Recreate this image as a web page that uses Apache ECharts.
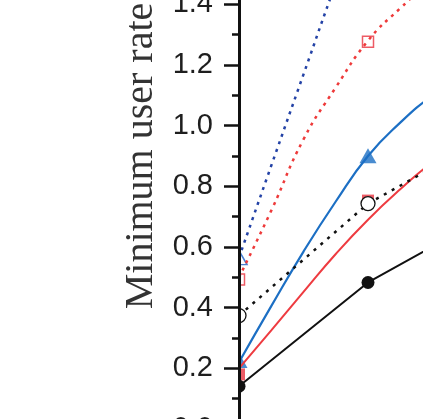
<!DOCTYPE html>
<html>
<head>
<meta charset="utf-8">
<script src="https://cdn.jsdelivr.net/npm/echarts@6/dist/echarts.min.js"></script>
<style>
  html, body { margin: 0; padding: 0; background: #fff; }
  #chart { width: 423px; height: 419px; }
</style>
</head>
<body>
<div id="chart"></div>
<script>
// curve samples (x in steps of the marker spacing)
const xCurve = [0, 0.25, 0.5, 0.75, 1.0, 1.25, 1.5, 2.0];
const blueSolidCurve = [0.22, 0.405, 0.585, 0.75, 0.90, 1.01, 1.10, 1.25];
const redSolidCurve = [0.20, 0.325, 0.452, 0.577, 0.69, 0.79, 0.88, 1.03];
const redDotCurve = [0.50, 0.72, 0.955, 1.126, 1.28, 1.387, 1.48, 1.64];
const xBlueDot = [0, 0.25, 0.5, 0.75, 1.0];
const blueDotCurve = [0.565, 0.868, 1.169, 1.469, 1.752];

// marker data
const xPoints = [0, 1, 2];
const blackSolid = [0.141, 0.483, 0.72];
const blackDotted = [0.374, 0.743, 0.98];
const redSquares = [0.18, 0.753];
const blueTriangles = [0.226, 0.901];
const openSquares = [0.493, 1.277];
const openTriangles = [0.565];

const pairs = (xs, ys) => ys.map((y, i) => [xs[i], y]);

const chart = echarts.init(document.getElementById('chart'));

const option = {
  animation: false,
  grid: { left: 239, right: -74, top: -117, bottom: -10, containLabel: false, outerBoundsMode: 'none' },
  xAxis: { type: 'value', min: 0, max: 2, show: false },
  yAxis: {
    type: 'value',
    min: 0,
    max: 1.8,
    interval: 0.2,
    z: 10,
    name: 'Minimum user rate',
    nameLocation: 'middle',
    nameGap: 72,
    nameTextStyle: { fontFamily: 'Liberation Serif', fontSize: 40, color: '#333' },
    axisLine: { show: true, lineStyle: { color: '#111', width: 3 } },
    axisTick: { length: 15, lineStyle: { color: '#111', width: 2.5 } },
    minorTick: { show: true, splitNumber: 2, length: 7, lineStyle: { color: '#111', width: 2.5 } },
    splitLine: { show: false },
    axisLabel: {
      margin: 26,
      fontSize: 29,
      fontFamily: 'Liberation Sans',
      color: '#1e1e1e',
      formatter: v => v.toFixed(1)
    }
  },
  // white block left of the axis so markers sitting on it show only their right half
  graphic: [{
    type: 'rect', z: 5, silent: true,
    shape: { x: 0, y: 0, width: 238.5, height: 419 },
    style: { fill: '#fff' }
  }],
  series: [
    {
      type: 'line', smooth: true, showSymbol: false,
      data: pairs(xBlueDot, blueDotCurve),
      lineStyle: { color: '#2342a6', width: 2.5, type: [3, 5] }
    },
    {
      type: 'line', smooth: true, showSymbol: false,
      data: pairs(xCurve, redDotCurve),
      lineStyle: { color: '#ee3a3a', width: 2.5, type: [3, 5] }
    },
    {
      type: 'line', smooth: true, showSymbol: false,
      data: pairs(xCurve, blueSolidCurve),
      lineStyle: { color: '#1c6fc4', width: 2.2 }
    },
    {
      type: 'line', smooth: true, showSymbol: false,
      data: pairs(xCurve, redSolidCurve),
      lineStyle: { color: '#ee3b40', width: 2 }
    },
    {
      type: 'line',
      data: pairs(xPoints, blackSolid),
      symbol: 'circle', symbolSize: 13,
      itemStyle: { color: '#111' },
      lineStyle: { color: '#111', width: 2 }
    },
    {
      type: 'scatter',
      data: pairs(xPoints, redSquares),
      symbol: 'rect', symbolSize: 12,
      itemStyle: { color: '#e8323f' }
    },
    {
      type: 'line',
      data: pairs(xPoints, blackDotted),
      symbol: 'circle', symbolSize: 14,
      itemStyle: { color: '#fff', borderColor: '#111', borderWidth: 1.3 },
      lineStyle: { color: '#111', width: 2.5, type: [3, 6] }
    },
    {
      type: 'scatter',
      data: pairs(xPoints, blueTriangles),
      symbol: 'triangle', symbolSize: [17, 15],
      itemStyle: { color: '#1c6fc4' }
    },
    {
      type: 'scatter',
      data: pairs(xPoints, openSquares),
      symbol: 'rect', symbolSize: 11,
      itemStyle: { color: '#fff', borderColor: '#e8323f', borderWidth: 1.5 }
    },
    {
      type: 'scatter',
      data: pairs(xPoints, openTriangles),
      symbol: 'triangle', symbolSize: [16, 14],
      itemStyle: { color: '#fff', borderColor: '#1c5fc4', borderWidth: 1.5 }
    }
  ]
};

chart.setOption(option);
</script>
</body>
</html>
